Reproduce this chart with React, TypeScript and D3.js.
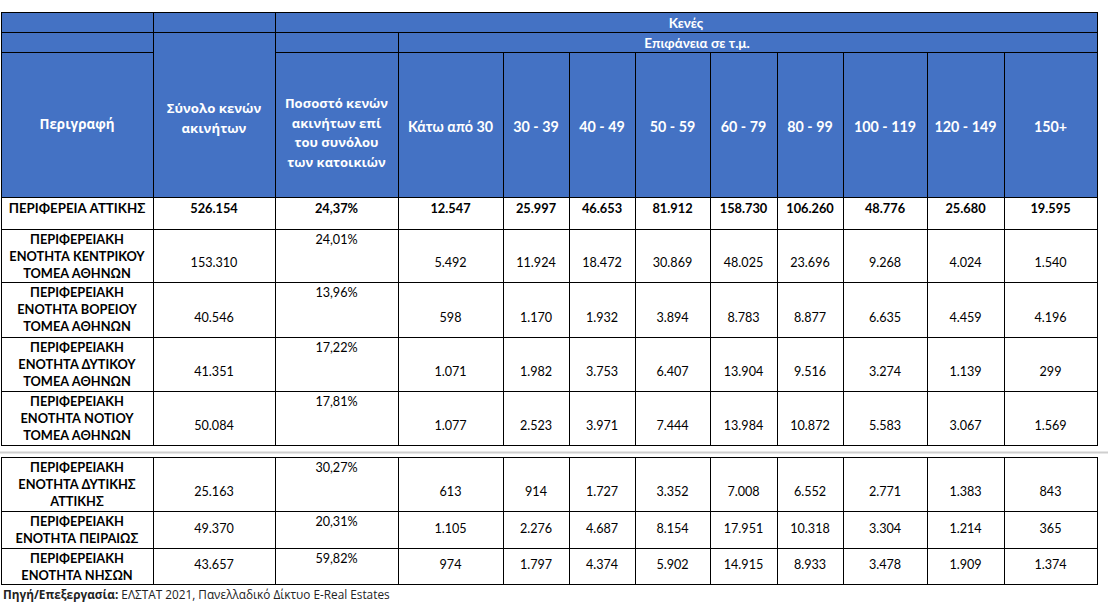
import React from 'react';
import * as d3 from 'd3';

// column headings
const sizeBands = ['Κάτω από 30', '30 - 39', '40 - 49', '50 - 59', '60 - 79', '80 - 99', '100 - 119', '120 - 149', '150+'];

// row descriptions
const regionLabels = [
  ['ΠΕΡΙΦΕΡΕΙΑ ΑΤΤΙΚΗΣ'],
  ['ΠΕΡΙΦΕΡΕΙΑΚΗ', 'ΕΝΟΤΗΤΑ ΚΕΝΤΡΙΚΟΥ', 'ΤΟΜΕΑ ΑΘΗΝΩΝ'],
  ['ΠΕΡΙΦΕΡΕΙΑΚΗ', 'ΕΝΟΤΗΤΑ ΒΟΡΕΙΟΥ', 'ΤΟΜΕΑ ΑΘΗΝΩΝ'],
  ['ΠΕΡΙΦΕΡΕΙΑΚΗ', 'ΕΝΟΤΗΤΑ ΔΥΤΙΚΟΥ', 'ΤΟΜΕΑ ΑΘΗΝΩΝ'],
  ['ΠΕΡΙΦΕΡΕΙΑΚΗ', 'ΕΝΟΤΗΤΑ ΝΟΤΙΟΥ', 'ΤΟΜΕΑ ΑΘΗΝΩΝ'],
  ['ΠΕΡΙΦΕΡΕΙΑΚΗ', 'ΕΝΟΤΗΤΑ ΔΥΤΙΚΗΣ', 'ΑΤΤΙΚΗΣ'],
  ['ΠΕΡΙΦΕΡΕΙΑΚΗ', 'ΕΝΟΤΗΤΑ ΠΕΙΡΑΙΩΣ'],
  ['ΠΕΡΙΦΕΡΕΙΑΚΗ', 'ΕΝΟΤΗΤΑ ΝΗΣΩΝ'],
];

const totals = [526154, 153310, 40546, 41351, 50084, 25163, 49370, 43657];
const shares = [24.37, 24.01, 13.96, 17.22, 17.81, 30.27, 20.31, 59.82];

// vacant dwellings by floor area, one array per region
const attiki = [12547, 25997, 46653, 81912, 158730, 106260, 48776, 25680, 19595];
const kentrikos = [5492, 11924, 18472, 30869, 48025, 23696, 9268, 4024, 1540];
const voreios = [598, 1170, 1932, 3894, 8783, 8877, 6635, 4459, 4196];
const dytikos = [1071, 1982, 3753, 6407, 13904, 9516, 3274, 1139, 299];
const notios = [1077, 2523, 3971, 7444, 13984, 10872, 5583, 3067, 1569];
const dytikiAttiki = [613, 914, 1727, 3352, 7008, 6552, 2771, 1383, 843];
const peiraias = [1105, 2276, 4687, 8154, 17951, 10318, 3304, 1214, 365];
const nisoi = [974, 1797, 4374, 5902, 14915, 8933, 3478, 1909, 1374];

const bins = [attiki, kentrikos, voreios, dytikos, notios, dytikiAttiki, peiraias, nisoi];

// layout
const W = 1108;
const H = 608;
const colWidths = [152, 122, 123, 105, 66, 66, 75, 67, 66, 84, 77, 93];
const colEdges = [1, ...d3.cumsum(colWidths).map((v) => v + 1)];
const headEdges = [12, 32, 52, 197];
const table1Heights = [32, 53, 55, 54, 54];
const table2Heights = [54, 37, 36];
const table1Edges = [197, ...d3.cumsum(table1Heights).map((v) => v + 197)];
const table2Edges = [457, ...d3.cumsum(table2Heights).map((v) => v + 457)];

const BLUE = '#4472C4';
const FONT = 'Lato, "Noto Sans", sans-serif';
const HFONT = '"Open Sans", "Noto Sans", sans-serif';

const locale = d3.formatLocale({ decimal: ',', thousands: '.', grouping: [3], currency: ['', '€'] });
const fmtInt = locale.format(',d');
const fmtPct = (v: number) => locale.format(',.2f')(v) + '%';

const cx = (c0: number, c1: number) => (colEdges[c0] + colEdges[c1]) / 2;

const App = () => {
  const rows = regionLabels.map((lines, i) => {
    const inFirst = i < table1Heights.length;
    const edges = inFirst ? table1Edges : table2Edges;
    const k = inFirst ? i : i - table1Heights.length;
    return { lines, top: edges[k], bottom: edges[k + 1], bold: i === 0, i };
  });

  const headerCells = [
    { c0: 0, c1: 1, r0: 0, r1: 1, lines: [] as string[] },
    { c0: 0, c1: 1, r0: 1, r1: 2, lines: [] as string[] },
    { c0: 0, c1: 1, r0: 2, r1: 3, lines: ['Περιγραφή'], font: HFONT, y0: 124, step: 0, size: 13.4 },
    { c0: 1, c1: 2, r0: 0, r1: 1, lines: [] as string[] },
    { c0: 1, c1: 2, r0: 1, r1: 3, lines: ['Σύνολο κενών', 'ακινήτων'], font: HFONT, y0: 108, step: 19.5, size: 13.2 },
    { c0: 2, c1: 12, r0: 0, r1: 1, lines: ['Κενές'], y0: 22.5, step: 0, size: 13.5 },
    { c0: 2, c1: 3, r0: 1, r1: 2, lines: [] as string[] },
    { c0: 2, c1: 3, r0: 2, r1: 3, lines: ['Ποσοστό κενών', 'ακινήτων επί', 'του συνόλου', 'των κατοικιών'], font: HFONT, y0: 103, step: 19.7, size: 13 },
    { c0: 3, c1: 12, r0: 1, r1: 2, lines: ['Επιφάνεια σε τ.μ.'], y0: 42.5, step: 0, size: 13.5, x: 697 },
    ...sizeBands.map((b, j) => ({ c0: 3 + j, c1: 4 + j, r0: 2, r1: 3, lines: [b], y0: 126, step: 0, size: 14.3 })),
  ];

  return (
    <svg width={W} height={H} style={{ position: 'absolute', left: 0, top: 0, background: '#fff' }}>
      <rect width={W} height={H} fill="#fff" />

      {/* header */}
      <g>
        {headerCells.map((h, k) => {
          const x0 = colEdges[h.c0];
          const x1 = colEdges[h.c1];
          const y0 = headEdges[h.r0];
          const y1 = headEdges[h.r1];
          return (
            <g key={'h' + k}>
              <rect x={x0 + 0.5} y={y0 + 0.5} width={x1 - x0} height={y1 - y0} fill={BLUE} stroke="#000" strokeWidth={1} shapeRendering="crispEdges" />
              {h.lines.map((t, li) => (
                <text
                  key={li}
                  x={(h as any).x ?? cx(h.c0, h.c1)}
                  y={(h as any).y0 + li * (h as any).step}
                  textAnchor="middle"
                  dominantBaseline="central"
                  fill="#fff"
                  fontWeight="bold"
                  fontFamily={(h as any).font ?? FONT}
                  fontSize={(h as any).size ?? 12.5}
                >
                  {t}
                </text>
              ))}
            </g>
          );
        })}
      </g>

      {/* separator between the two blocks */}
      <line x1={0} x2={W} y1={452.5} y2={452.5} stroke="#cfcfcf" strokeWidth={2} />

      {/* body */}
      <g>
        {rows.map((r) => {
          const values = [fmtInt(totals[r.i]), fmtPct(shares[r.i]), ...bins[r.i].map(fmtInt)];
          const numY = r.bold ? r.top + 11 : r.bottom - 19.5;
          const pctY = r.bold ? r.top + 11 : r.top + 10;
          return (
            <g key={'r' + r.i} fontFamily={FONT} fill="#000" fontWeight={r.bold ? 'bold' : 'normal'}>
              {colWidths.map((w, c) => (
                <rect key={c} x={colEdges[c] + 0.5} y={r.top + 0.5} width={w} height={r.bottom - r.top} fill="#fff" stroke="#000" strokeWidth={1} shapeRendering="crispEdges" />
              ))}
              {r.lines.map((t, li) => (
                <text key={'l' + li} x={cx(0, 1)} y={r.top + (r.bold ? 11 : 10) + li * 17} textAnchor="middle" dominantBaseline="central" fontWeight="bold" fontSize={r.bold ? 13.3 : 12.8}>
                  {t}
                </text>
              ))}
              {values.map((v, j) => (
                <text key={'v' + j} x={cx(j + 1, j + 2)} y={j === 1 ? pctY : numY} textAnchor="middle" dominantBaseline="central" fontSize={r.bold ? 12.8 : 12.6}>
                  {v}
                </text>
              ))}
            </g>
          );
        })}
      </g>

      {/* source */}
      <text x={3} y={594} dominantBaseline="central" fontFamily={HFONT} fontSize={11.8} fill="#222">
        <tspan fontWeight="bold">Πηγή/Επεξεργασία:</tspan>
        <tspan> ΕΛΣΤΑΤ 2021, Πανελλαδικό Δίκτυο E-Real Estates</tspan>
      </text>
    </svg>
  );
};

export default App;
